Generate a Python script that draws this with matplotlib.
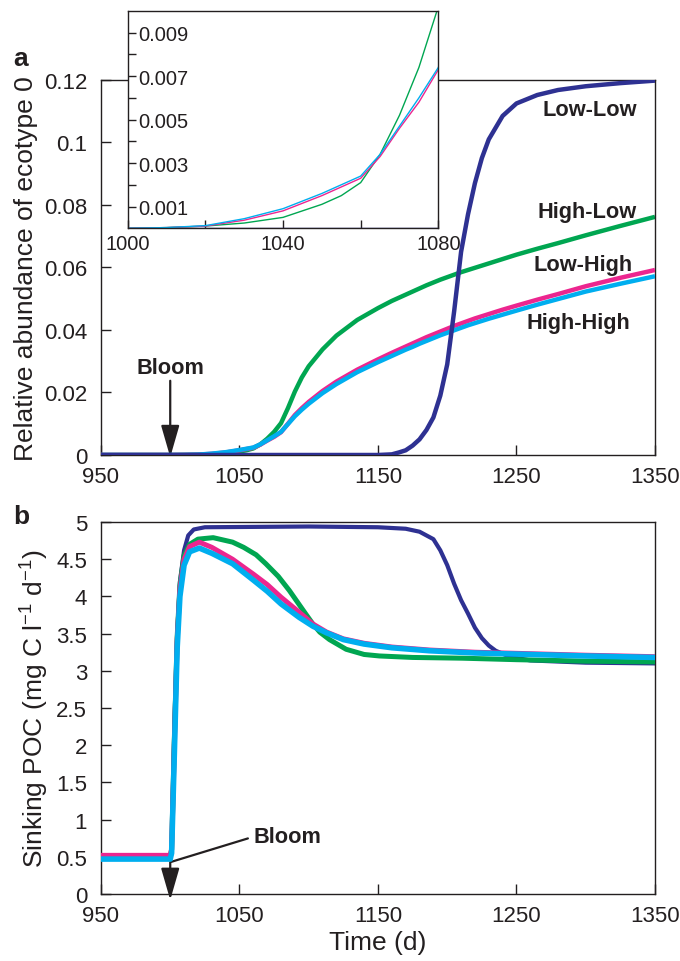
import matplotlib
matplotlib.use("Agg")
import matplotlib.pyplot as plt

plt.rcParams["font.family"] = ["Liberation Sans", "DejaVu Sans"]
plt.rcParams["mathtext.fontset"] = "custom"
plt.rcParams["mathtext.rm"] = "Liberation Sans"
plt.rcParams["mathtext.default"] = "regular"

# colours of the four scenarios
C_LL = "#2e3192"
C_HL = "#00a651"
C_LH = "#ec268f"
C_HH = "#00aeef"
INK = "#231f20"

# ---- panel a: relative abundance of ecotype 0 ----
t_a = [950, 1000, 1010, 1020, 1030, 1040, 1050, 1055, 1060, 1065,
       1070, 1075, 1080, 1085, 1090, 1095, 1100, 1110, 1120, 1135,
       1150, 1160, 1165, 1170, 1175, 1180, 1185, 1190, 1195, 1200,
       1205, 1210, 1215, 1220, 1225, 1230, 1240, 1250, 1265, 1280,
       1300, 1325, 1350]
abund_ll = [0, 0, 0, 0, 0, 0, 0, 0, 0, 0,
            0, 0, 0, 0, 0, 0, 0, 0, 0, 0,
            0, 0.0002, 0.0008, 0.0015, 0.003, 0.005, 0.008, 0.012, 0.019, 0.029,
            0.046, 0.065, 0.077, 0.087, 0.095, 0.101, 0.1085, 0.1125, 0.1152, 0.1168,
            0.1180, 0.1190, 0.1198]
abund_hl = [0, 0, 0.00003, 0.0001, 0.00024, 0.0005, 0.0011, 0.0015, 0.0021, 0.0034,
            0.0052, 0.0074, 0.0102, 0.0150, 0.0203, 0.0248, 0.0284, 0.0338, 0.0382, 0.0432,
            0.0470, 0.0493, 0.0503, 0.0513, 0.0523, 0.0533, 0.0543, 0.0552, 0.0561, 0.0569,
            0.0577, 0.0585, 0.0592, 0.0599, 0.0606, 0.0613, 0.0627, 0.0641, 0.0660, 0.0678,
            0.0703, 0.0733, 0.0762]
abund_lh = [0, 0, 0.00003, 0.0001, 0.00037, 0.0008, 0.0015, 0.0019, 0.0023, 0.0033,
            0.0046, 0.0058, 0.0073, 0.0100, 0.0128, 0.0150, 0.0170, 0.0205, 0.0235, 0.0273,
            0.0306, 0.0327, 0.0337, 0.0347, 0.0357, 0.0367, 0.0377, 0.0386, 0.0395, 0.0404,
            0.0413, 0.0421, 0.0429, 0.0437, 0.0444, 0.0451, 0.0465, 0.0478, 0.0497, 0.0515,
            0.0540, 0.0567, 0.0592]
abund_hh = [0, 0, 0.00003, 0.00012, 0.00044, 0.0009, 0.0016, 0.0020, 0.0024, 0.0034,
            0.0047, 0.0060, 0.0074, 0.0099, 0.0124, 0.0145, 0.0164, 0.0198, 0.0227, 0.0265,
            0.0297, 0.0317, 0.0327, 0.0337, 0.0346, 0.0356, 0.0365, 0.0374, 0.0383, 0.0391,
            0.0399, 0.0407, 0.0415, 0.0422, 0.0429, 0.0436, 0.0449, 0.0462, 0.0481, 0.0499,
            0.0523, 0.0548, 0.0572]

# ---- panel b: sinking POC ----
t_b_ll = [950, 1000, 1001, 1003, 1005, 1007, 1010, 1013, 1017, 1025,
          1100, 1150, 1170, 1180, 1190, 1195, 1200, 1205, 1210, 1215,
          1220, 1225, 1230, 1235, 1245, 1260, 1300, 1350]
poc_ll = [0.5, 0.5, 0.6, 2.3, 3.5, 4.2, 4.62, 4.82, 4.9, 4.93,
          4.94, 4.93, 4.91, 4.87, 4.77, 4.62, 4.42, 4.17, 3.95, 3.77,
          3.58, 3.44, 3.34, 3.27, 3.19, 3.14, 3.11, 3.10]
t_b_hl = [950, 1000, 1001, 1003, 1005, 1007, 1010, 1014, 1020, 1031,
          1045, 1053, 1062, 1069, 1078, 1086, 1092, 1098, 1103, 1108,
          1115, 1127, 1140, 1151, 1175, 1211, 1250, 1300, 1350]
poc_hl = [0.5, 0.5, 0.6, 2.1, 3.45, 4.15, 4.55, 4.70, 4.77, 4.79,
          4.73, 4.66, 4.56, 4.44, 4.27, 4.08, 3.92, 3.76, 3.63, 3.52,
          3.42, 3.29, 3.22, 3.20, 3.18, 3.17, 3.15, 3.13, 3.12]
t_b_h = [950, 1000, 1001, 1003, 1005, 1007, 1010, 1014, 1021, 1030,
         1045, 1060, 1070, 1080, 1093, 1103, 1113, 1125, 1140, 1160,
         1187, 1220, 1260, 1300, 1350]
poc_lh = [0.52, 0.52, 0.6, 2.0, 3.4, 4.1, 4.5, 4.67, 4.73, 4.66,
          4.50, 4.30, 4.16, 3.99, 3.79, 3.63, 3.52, 3.43, 3.37, 3.32,
          3.28, 3.25, 3.23, 3.21, 3.19]
poc_hh = [0.47, 0.47, 0.55, 1.9, 3.3, 4.0, 4.42, 4.6, 4.65, 4.58,
          4.44, 4.22, 4.07, 3.90, 3.72, 3.60, 3.51, 3.42, 3.36, 3.31,
          3.27, 3.24, 3.22, 3.20, 3.18]

x_ticks = [950, 1050, 1150, 1250, 1350]
a_yticks = [0, 0.02, 0.04, 0.06, 0.08, 0.1, 0.12]
a_yticklabels = ["0", "0.02", "0.04", "0.06", "0.08", "0.1", "0.12"]
b_yticks = [0, 0.5, 1, 1.5, 2, 2.5, 3, 3.5, 4, 4.5, 5]
b_yticklabels = ["0", "0.5", "1", "1.5", "2", "2.5", "3", "3.5", "4", "4.5", "5"]
inset_xticks = [1000, 1020, 1040, 1060, 1080]
inset_xticklabels = ["1000", "", "1040", "", "1080"]
inset_yticks = [0.001, 0.002, 0.003, 0.004, 0.005, 0.006, 0.007, 0.008, 0.009]
inset_yticklabels = ["0.001", "", "0.003", "", "0.005", "", "0.007", "", "0.009"]

# end-of-line labels for panel a: (text, x, y)
curve_labels = [("Low-Low", 1337, 0.1105),
                ("High-Low", 1337, 0.0780),
                ("Low-High", 1334, 0.0610),
                ("High-High", 1332, 0.0425)]

TICK_FS = 16
INSET_FS = 14.5
LABEL_FS = 19
BOLD_FS = 15.7


def style_axes(ax, size):
    for s in ax.spines.values():
        s.set_color(INK)
        s.set_linewidth(1.0)
    ax.tick_params(direction="in", length=7, width=1.0, color=INK,
                   labelsize=size, labelcolor=INK)


fig = plt.figure(figsize=(6.8, 9.62), dpi=100)

# panel a
ax1 = fig.add_axes([0.1485, 0.526, 0.8147, 0.3898])
ax1.plot(t_a, abund_hl, color=C_HL, lw=3.2, solid_capstyle="butt", zorder=2)
ax1.plot(t_a, abund_lh, color=C_LH, lw=3.2, solid_capstyle="butt", zorder=3)
ax1.plot(t_a, abund_hh, color=C_HH, lw=3.2, solid_capstyle="butt", zorder=4)
ax1.plot(t_a, abund_ll, color=C_LL, lw=3.2, solid_capstyle="butt", zorder=5)
ax1.set_xlim(950, 1350)
ax1.set_ylim(0, 0.12)
ax1.set_xticks(x_ticks)
ax1.set_yticks(a_yticks)
ax1.set_yticklabels(a_yticklabels)
ax1.set_ylabel("Relative abundance of ecotype 0", fontsize=LABEL_FS, color=INK, labelpad=4)
style_axes(ax1, TICK_FS)
ax1.tick_params(axis="y", pad=10)
ax1.tick_params(axis="x", pad=8)
for txt, x, y in curve_labels:
    ax1.text(x, y, txt, ha="right", va="center", fontsize=BOLD_FS,
             fontweight="bold", color=INK, zorder=6)
ax1.annotate("Bloom", xy=(1000, -0.0007), xytext=(1000, 0.0280),
             ha="center", va="center", fontsize=BOLD_FS, fontweight="bold",
             color=INK, annotation_clip=False,
             arrowprops=dict(arrowstyle="-|>,head_length=1.25,head_width=0.36",
                             color=INK, lw=1.6, shrinkA=0, shrinkB=0,
                             relpos=(0.5, 0)))

# inset in panel a
axi = fig.add_axes([0.1878, 0.7617, 0.4568, 0.2259])
axi.set_facecolor("white")
axi.plot(t_a, abund_ll, color=C_LL, lw=1.0)
axi.plot(t_a, abund_hl, color=C_HL, lw=1.0)
axi.plot(t_a, abund_lh, color=C_LH, lw=1.0)
axi.plot(t_a, abund_hh, color=C_HH, lw=1.0)
axi.set_xlim(1000, 1080)
axi.set_ylim(0, 0.01)
axi.set_xticks(inset_xticks)
axi.set_xticklabels(inset_xticklabels)
axi.set_yticks(inset_yticks)
axi.set_yticklabels(inset_yticklabels)
style_axes(axi, INSET_FS)
axi.tick_params(axis="y", length=6, pad=-44)
axi.tick_params(axis="x", length=6, pad=4)

# panel b
ax2 = fig.add_axes([0.1485, 0.0696, 0.8147, 0.3867])
ax2.plot(t_b_ll, poc_ll, color=C_LL, lw=3.0, zorder=2)
ax2.plot(t_b_hl, poc_hl, color=C_HL, lw=3.6, zorder=3)
ax2.plot(t_b_h, poc_lh, color=C_LH, lw=3.6, zorder=4)
ax2.plot(t_b_h, poc_hh, color=C_HH, lw=4.0, zorder=5)
ax2.set_xlim(950, 1350)
ax2.set_ylim(0, 5)
ax2.set_xticks(x_ticks)
ax2.set_yticks(b_yticks)
ax2.set_yticklabels(b_yticklabels)
ax2.set_ylabel("Sinking POC (mg C l$^{\u22121}$ d$^{\u22121}$)", fontsize=LABEL_FS,
               color=INK, labelpad=4)
ax2.set_xlabel("Time (d)", fontsize=LABEL_FS, color=INK, labelpad=3)
style_axes(ax2, TICK_FS)
ax2.tick_params(axis="y", pad=10)
ax2.tick_params(axis="x", pad=8)
ax2.annotate("Bloom", xy=(1000, -0.08), xytext=(1060, 0.77),
             ha="left", va="center", fontsize=BOLD_FS, fontweight="bold",
             color=INK, annotation_clip=False,
             arrowprops=dict(arrowstyle="-|>,head_length=1.25,head_width=0.36",
                             connectionstyle="angle,angleA=17,angleB=90,rad=0",
                             color=INK, lw=1.6, shrinkA=2, shrinkB=0,
                             relpos=(0, 0.5)))

fig.text(0.02, 0.939, "a", fontsize=19, fontweight="bold", color=INK, va="center")
fig.text(0.02, 0.463, "b", fontsize=19, fontweight="bold", color=INK, va="center")

fig.savefig("out.png", dpi=100)
